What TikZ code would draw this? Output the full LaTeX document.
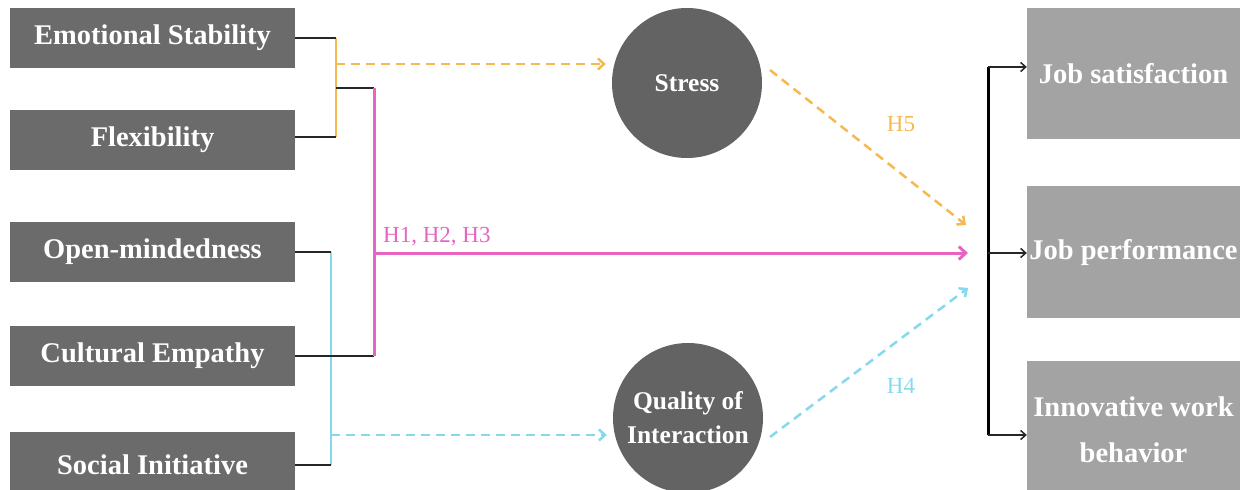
\documentclass[tikz,border=0pt]{standalone}
\usepackage{fontspec}
\setmainfont{Liberation Serif}
\usetikzlibrary{arrows.meta}
\definecolor{lbox}{HTML}{6B6B6B}
\definecolor{cgray}{HTML}{636363}
\definecolor{rbox}{HTML}{A3A3A3}
\definecolor{orng}{HTML}{F4B94F}
\definecolor{pnk}{HTML}{E864C2}
\definecolor{cyn}{HTML}{84DAEC}
\tikzset{
  lbx/.style={fill=lbox, draw=none, minimum width=285pt, minimum height=60pt, text=white,
    font=\fontsize{28.5}{34}\selectfont\bfseries, inner sep=0pt},
  rbx/.style={fill=rbox, draw=none, minimum width=213pt, text=white, align=center,
    font=\fontsize{28.5}{46}\selectfont\bfseries, inner sep=0pt},
  circ/.style={circle, fill=cgray, draw=none, minimum size=150pt, text=white, align=center,
    font=\fontsize{25.5}{34}\selectfont\bfseries, inner sep=0pt},
  blk/.style={draw=black!85, line width=1.5pt},
  orl/.style={draw=orng, line width=2.5pt},
  cyl/.style={draw=cyn, line width=2.5pt},
  pkl/.style={draw=pnk, line width=3pt},
  odash/.style={draw=orng, line width=2.5pt, dash pattern=on 9pt off 6pt,
    -{Straight Barb[length=6pt,width=11pt]}},
  cdash/.style={draw=cyn, line width=2.5pt, dash pattern=on 9pt off 6pt,
    -{Straight Barb[length=6pt,width=11pt]}},
  brarrow/.style={draw=black!85, line width=1.5pt, -{Straight Barb[length=5pt,width=9pt]}},
  hlab/.style={font=\fontsize{23}{28}\selectfont, inner sep=0pt}
}
\begin{document}
\begin{tikzpicture}[x=1pt,y=-1pt]
\useasboundingbox (0,0) rectangle (1248,490);
% left boxes
\node[lbx] (es) at (152.5,38) {Emotional Stability};
\node[lbx] (fl) at (152.5,140) {Flexibility};
\node[lbx] (om) at (152.5,252) {Open-mindedness};
\node[lbx] (ce) at (152.5,356) {Cultural Empathy};
\node[lbx, minimum height=66pt] (si) at (152.5,465) {Social Initiative};
% circles
\node[circ] (stress) at (687,83) {Stress};
\node[circ] (qoi) at (688,418) {Quality of\\Interaction};
% right boxes
\node[rbx, minimum height=131pt] (js) at (1133.5,73.5) {Job satisfaction};
\node[rbx, minimum height=132pt] (jp) at (1133.5,252) {Job performance};
\node[rbx, minimum height=138pt] (iw) at (1133.5,430) {Innovative work\\behavior};
% coordinates
\coordinate (oT) at (336,38);
\coordinate (oB) at (336,137);
\coordinate (oM) at (336,64);
\coordinate (oP) at (336,88);
\coordinate (pT) at (374,88);
\coordinate (pB) at (374,356);
\coordinate (pM) at (374,253);
\coordinate (tgt) at (968,253);
\coordinate (cT) at (331,252);
\coordinate (cB) at (331,465);
\coordinate (cM) at (331,435);
\coordinate (h5s) at (770,70);
\coordinate (h5e) at (966,225);
\coordinate (h4s) at (770,437);
\coordinate (h4e) at (968,288);
\coordinate (bT) at (988,67);
\coordinate (bM) at (988,253);
\coordinate (bB) at (988,435);
% orange group
\draw[orl] (oT) -- (oB);
\draw[blk] (es.east |- oT) -- (oT);
\draw[blk] (fl.east |- oB) -- (oB);
\draw[odash] (oM) -- ([xshift=-6pt]oM -| stress.west);
% cyan group
\draw[cyl] (cT) -- (cB);
\draw[blk] (om.east) -- (cT);
\draw[blk] (si.east) -- (cB);
\draw[cdash] (cM) -- ([xshift=-6pt]cM -| qoi.west);
% pink group
\draw[blk] (oP) -- (pT);
\draw[blk] (ce.east) -- (pB);
\draw[pkl] (pT) -- (pB);
\draw[pkl, -{Straight Barb[length=7pt,width=13pt]}] (pM) -- (tgt);
\node[hlab, text=pnk, anchor=south west] (h123) at (383,246) {H1, H2, H3};
% mediator paths
\draw[odash] (h5s) -- (h5e);
\node[hlab, text=orng] (h5) at (901,124) {H5};
\draw[cdash] (h4s) -- (h4e);
\node[hlab, text=cyn] (h4) at (901,386) {H4};
% bracket
\draw[draw=black, line width=3pt] (bT) -- (bB);
\draw[brarrow] (bT) -- (bT -| js.west);
\draw[brarrow] (bM) -- (bM -| jp.west);
\draw[brarrow] (bB) -- (bB -| iw.west);
\end{tikzpicture}
\end{document}
